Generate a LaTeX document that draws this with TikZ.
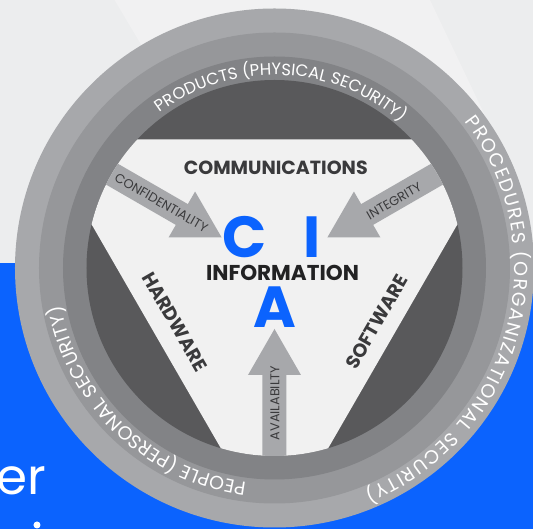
\documentclass[tikz,border=0pt]{standalone}
\usepackage{fontspec}
\setmainfont{Poppins}
\usetikzlibrary{decorations.text}
\definecolor{bg}{HTML}{ECEDEE}
\definecolor{bglight}{HTML}{F1F1F2}
\definecolor{slideblue}{HTML}{0B63FE}
\definecolor{ringA}{HTML}{A7A8AB}
\definecolor{ringB}{HTML}{96979A}
\definecolor{ringC}{HTML}{828386}
\definecolor{core}{HTML}{59595B}
\definecolor{tri}{HTML}{F1F1F1}
\definecolor{arrowgray}{HTML}{A7A8AB}
\definecolor{darktext}{HTML}{3A3A3C}
\definecolor{infotext}{HTML}{222223}
\definecolor{ciablue}{HTML}{0B63FE}
\tikzset{
  heading/.style={font=\bfseries\fontsize{19}{19}\selectfont, text=darktext, inner sep=0pt},
  cialetter/.style={font=\bfseries\fontsize{58}{58}\selectfont, text=ciablue, inner sep=0pt},
  arrowlabel/.style={font=\fontsize{12.8}{12.8}\selectfont, text=darktext, inner sep=0pt},
  blockarrow/.style={fill=arrowgray},
  ringtext/.style={decorate, decoration={text along path, text align=fit to path, text={#1}}}
}
\newcommand{\rfmtS}{\color{white}\fontsize{16.5}{16.5}\selectfont}
\newcommand{\rfmtL}{\color{white}\fontsize{19}{19}\selectfont}
\begin{document}
\begin{tikzpicture}[x=1pt,y=1pt]
\useasboundingbox (-274.5,-261) rectangle (258.5,268);
% background
\fill[bg] (-274.5,-261) rectangle (258.5,268);
\fill[bglight] (-160,268) -- (155.5,268) -- (215,143) -- (0,0) -- cycle;
\fill[slideblue] (-274.5,-261) rectangle (258.5,5);
\node[anchor=base east, inner sep=0pt, text=white, font=\fontsize{50}{50}\selectfont] (er) at (-228.5,-227) {er};
\fill[white] (-237.5,-257) circle (3.5);
% rings
\fill[ringA] (0,0) circle (259.5);
\fill[ringB] (0,0) circle (235.5);
\fill[ringC] (0,0) circle (211.5);
\fill[core] (0,0) circle (188);
\begin{scope}
  \clip (0,0) circle (188);
  \fill[tri] (-231.9,128.5) -- (231.9,128.5) -- (0,-273.2) -- cycle;
  \foreach \a in {150,30,270}{
    \fill[blockarrow, rotate=\a] (61,0) -- (107,26.5) -- (107,12) -- (200,12) -- (200,-12) -- (107,-12) -- (107,-26.5) -- cycle;
  }
\end{scope}
% arrow labels
\node[arrowlabel, rotate=-30] (conf) at (150:130.7) {CONFIDENTIALITY};
\node[arrowlabel, rotate=30] (integ) at (29.3:137) {INTEGRITY};
\node[arrowlabel, rotate=90] (avail) at (0.5,-135) {AVAILABILTY};
% headings
\node[heading] (comm) at (1.3,99.7) {COMMUNICATIONS};
\node[heading, text=infotext, font=\bfseries\fontsize{21.5}{21.5}\selectfont] (info) at (8,-4.5) {INFORMATION};
\node[heading, rotate=-60] (hard) at (-99.5,-53.7) {HARDWARE};
\node[heading, rotate=60] (soft) at (102.2,-53.7) {SOFTWARE};
% CIA
\node[cialetter] (c) at (-29.5,31) {C};
\node[cialetter] (i) at (38,31) {I};
\node[cialetter] (a) at (0.8,-39.5) {A};
% ring texts
\path[ringtext={|\rfmtS|PRODUCTS (PHYSICAL SECURITY)}] (126.5:193) arc[start angle=126.5, end angle=49, radius=193];
\path[ringtext={|\rfmtL|PROCEDURES (ORGANIZATIONAL SECURITY)}] (37.5:240) arc[start angle=37.5, end angle=-68, radius=240];
\path[ringtext={|\rfmtL|PEOPLE (PERSONAL SECURITY)}] (-97.5:216) arc[start angle=-97.5, end angle=-170, radius=216];
\end{tikzpicture}
\end{document}
